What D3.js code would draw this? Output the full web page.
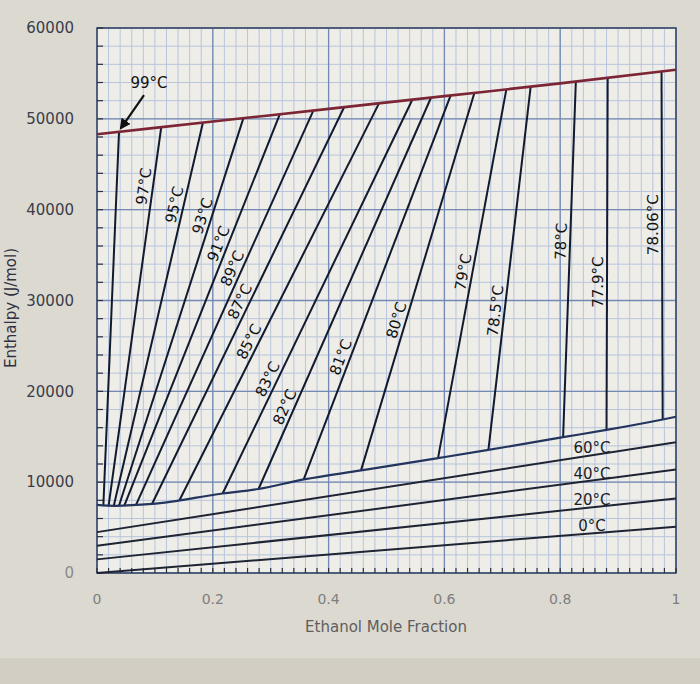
<!DOCTYPE html>
<html>
<head>
<meta charset="utf-8">
<script src="https://cdn.jsdelivr.net/npm/d3@7"></script>
<style>
  body { margin: 0; background: #dcd9d1; }
  svg { display: block; }
  text { font-family: "DejaVu Sans", sans-serif; }
</style>
</head>
<body>
<svg id="chart" width="700" height="684"></svg>
<script>
// tie lines (isotherms): temperature, liquid end and vapour end
var isoTemps = ["99", "97", "95", "93", "91", "89", "87", "85", "83", "82", "81", "80", "79", "78.5", "78", "77.9", "78.06"];
var isoLiqX = [0.011, 0.020, 0.029, 0.038, 0.047, 0.067, 0.095, 0.142, 0.217, 0.279, 0.357, 0.456, 0.589, 0.676, 0.805, 0.880, 0.977];
var isoLiqH = [7450, 7400, 7400, 7400, 7400, 7450, 7600, 7950, 8750, 9250, 10300, 11300, 12650, 13550, 14950, 15750, 16900];
var isoVapX = [0.038, 0.111, 0.183, 0.253, 0.316, 0.374, 0.427, 0.487, 0.545, 0.577, 0.611, 0.652, 0.707, 0.749, 0.827, 0.882, 0.975];
var isoVapH = [48550, 49100, 49600, 50100, 50550, 50950, 51300, 51700, 52150, 52350, 52600, 52900, 53250, 53550, 54100, 54500, 55200];

// saturated vapour curve
var vapX = [0, 0.2, 0.4, 0.6, 0.8, 1];
var vapH = [48300, 49700, 51100, 52500, 53900, 55400];

// saturated liquid curve
var liqX = [0, 0.03, 0.095, 0.217, 0.279, 0.357, 0.456, 0.589, 0.676, 0.805, 0.88, 0.977, 1];
var liqH = [7500, 7400, 7600, 8750, 9250, 10300, 11300, 12650, 13550, 14950, 15750, 16900, 17200];

// subcooled liquid lines, enthalpy at x=0 and x=1
var subTemps = ["60", "40", "20", "0"];
var subH0 = [4500, 3000, 1500, 0];
var subH1 = [14400, 11400, 8200, 5100];

var xTicks = [0, 0.2, 0.4, 0.6, 0.8, 1];
var yTicks = [0, 10000, 20000, 30000, 40000, 50000, 60000];

// layout: where along each tie line the label sits (0 liquid end, 1 vapour end)
var labelAlong = [null, 0.84, 0.78, 0.74, 0.66, 0.59, 0.5, 0.39, 0.28, 0.2, 0.31, 0.39, 0.5, 0.38, 0.55, 0.42, 0.56];

var svg = d3.select("#chart");
var x = d3.scaleLinear().domain([0, 1]).range([97, 676]);
var y = d3.scaleLinear().domain([0, 60000]).range([573, 28]);

// backgrounds
svg.append("rect").attr("x", 0).attr("y", 658).attr("width", 700).attr("height", 26).attr("fill", "#d2cec4");
svg.append("rect")
  .attr("x", x(0)).attr("y", y(60000))
  .attr("width", x(1) - x(0)).attr("height", y(0) - y(60000))
  .attr("fill", "#eeede8");

// grid
var grid = svg.append("g");
grid.selectAll(".vmin").data(d3.range(0, 51).map(function(i){ return i * 0.02; }))
  .enter().append("line")
  .attr("x1", function(d){ return x(d); }).attr("x2", function(d){ return x(d); })
  .attr("y1", y(0)).attr("y2", y(60000))
  .attr("stroke", "#b8c5dc").attr("stroke-width", 1);
grid.selectAll(".hmin").data(d3.range(0, 31).map(function(i){ return i * 2000; }))
  .enter().append("line")
  .attr("x1", x(0)).attr("x2", x(1))
  .attr("y1", function(d){ return y(d); }).attr("y2", function(d){ return y(d); })
  .attr("stroke", "#b8c5dc").attr("stroke-width", 1);
grid.selectAll(".vmaj").data(xTicks)
  .enter().append("line")
  .attr("x1", function(d){ return x(d); }).attr("x2", function(d){ return x(d); })
  .attr("y1", y(0)).attr("y2", y(60000))
  .attr("stroke", "#7489b3").attr("stroke-width", 1.3);
grid.selectAll(".hmaj").data(yTicks)
  .enter().append("line")
  .attr("x1", x(0)).attr("x2", x(1))
  .attr("y1", function(d){ return y(d); }).attr("y2", function(d){ return y(d); })
  .attr("stroke", "#7489b3").attr("stroke-width", 1.3);

// frame
svg.append("rect")
  .attr("x", x(0)).attr("y", y(60000))
  .attr("width", x(1) - x(0)).attr("height", y(0) - y(60000))
  .attr("fill", "none").attr("stroke", "#3d4a68").attr("stroke-width", 1.5);

// small inner ticks on left and bottom axes
svg.append("g").selectAll("line").data(d3.range(0, 31).map(function(i){ return i * 2000; }))
  .enter().append("line")
  .attr("x1", x(0)).attr("x2", x(0) + 6)
  .attr("y1", function(d){ return y(d); }).attr("y2", function(d){ return y(d); })
  .attr("stroke", "#2a3040").attr("stroke-width", 1.2);
svg.append("g").selectAll("line").data(d3.range(0, 51).map(function(i){ return i * 0.02; }))
  .enter().append("line")
  .attr("x1", function(d){ return x(d); }).attr("x2", function(d){ return x(d); })
  .attr("y1", y(0)).attr("y2", y(0) - 5)
  .attr("stroke", "#2a3040").attr("stroke-width", 1.2);

// tick labels
svg.append("g").selectAll("text").data(yTicks)
  .enter().append("text")
  .attr("x", 74).attr("y", function(d){ return y(d); })
  .attr("dy", "0.35em").attr("text-anchor", "end")
  .attr("font-size", 15).attr("fill", function(d){ return d === 0 ? "#8a8a8a" : "#3a3d4a"; })
  .text(function(d){ return d; });
svg.append("g").selectAll("text").data(xTicks)
  .enter().append("text")
  .attr("x", function(d){ return x(d); }).attr("y", 604)
  .attr("text-anchor", "middle")
  .attr("font-size", 14).attr("fill", "#7e7e7e")
  .text(function(d){ return d; });

// axis titles
svg.append("text")
  .attr("x", 386).attr("y", 632).attr("text-anchor", "middle")
  .attr("font-size", 15).attr("fill", "#5e5e5e")
  .text("Ethanol Mole Fraction");
svg.append("text")
  .attr("transform", "translate(16,308) rotate(-90)")
  .attr("text-anchor", "middle")
  .attr("font-size", 15).attr("fill", "#2e3040")
  .text("Enthalpy (J/mol)");

// subcooled liquid lines
svg.append("g").selectAll("line").data(subTemps)
  .enter().append("line")
  .attr("x1", x(0)).attr("x2", x(1))
  .attr("y1", function(d, i){ return y(subH0[i]); })
  .attr("y2", function(d, i){ return y(subH1[i]); })
  .attr("stroke", "#1e2433").attr("stroke-width", 2);
svg.append("g").selectAll("text").data(subTemps)
  .enter().append("text")
  .attr("x", x(0.855))
  .attr("y", function(d, i){ return y(subH0[i] + 0.855 * (subH1[i] - subH0[i])) - 2; })
  .attr("text-anchor", "middle")
  .attr("font-size", 15).attr("fill", "#1a1d28")
  .text(function(d){ return d + "°C"; });

// tie lines
var ties = svg.append("g");
ties.selectAll("line").data(isoTemps)
  .enter().append("line")
  .attr("x1", function(d, i){ return x(isoLiqX[i]); })
  .attr("y1", function(d, i){ return y(isoLiqH[i]); })
  .attr("x2", function(d, i){ return x(isoVapX[i]); })
  .attr("y2", function(d, i){ return y(isoVapH[i]); })
  .attr("stroke", "#121a2e").attr("stroke-width", 2);

ties.selectAll("text").data(isoTemps.slice(1))
  .enter().append("text")
  .attr("transform", function(d, j){
    var i = j + 1;
    var x1 = x(isoLiqX[i]), y1 = y(isoLiqH[i]);
    var x2 = x(isoVapX[i]), y2 = y(isoVapH[i]);
    var t = labelAlong[i];
    var a = Math.atan2(y2 - y1, x2 - x1) * 180 / Math.PI;
    return "translate(" + (x1 + t * (x2 - x1)) + "," + (y1 + t * (y2 - y1)) + ") rotate(" + a + ")";
  })
  .attr("dy", -4)
  .attr("text-anchor", "middle")
  .attr("font-size", 15).attr("fill", "#111")
  .text(function(d){ return d + "°C"; });

// saturated liquid and vapour curves
var line = d3.line()
  .x(function(d){ return x(d[0]); })
  .y(function(d){ return y(d[1]); })
  .curve(d3.curveMonotoneX);
svg.append("path")
  .attr("d", line(d3.zip(liqX, liqH)))
  .attr("fill", "none").attr("stroke", "#23345e").attr("stroke-width", 2.2);
svg.append("path")
  .attr("d", line(d3.zip(vapX, vapH)))
  .attr("fill", "none").attr("stroke", "#7b2535").attr("stroke-width", 2.6);

// 99 °C callout
var px = x(isoVapX[0]), py = y(isoVapH[0]);
svg.append("defs").append("marker")
  .attr("id", "head").attr("viewBox", "0 0 10 10")
  .attr("refX", 8).attr("refY", 5)
  .attr("markerWidth", 5).attr("markerHeight", 5)
  .attr("orient", "auto")
  .append("path").attr("d", "M0,0L10,5L0,10z").attr("fill", "#111");
svg.append("line")
  .attr("x1", px + 25).attr("y1", py - 37)
  .attr("x2", px + 2).attr("y2", py - 4)
  .attr("stroke", "#111").attr("stroke-width", 2.2)
  .attr("marker-end", "url(#head)");
svg.append("text")
  .attr("x", px + 30).attr("y", py - 44)
  .attr("text-anchor", "middle")
  .attr("font-size", 15).attr("fill", "#111")
  .text("99°C");
</script>
</body>
</html>
